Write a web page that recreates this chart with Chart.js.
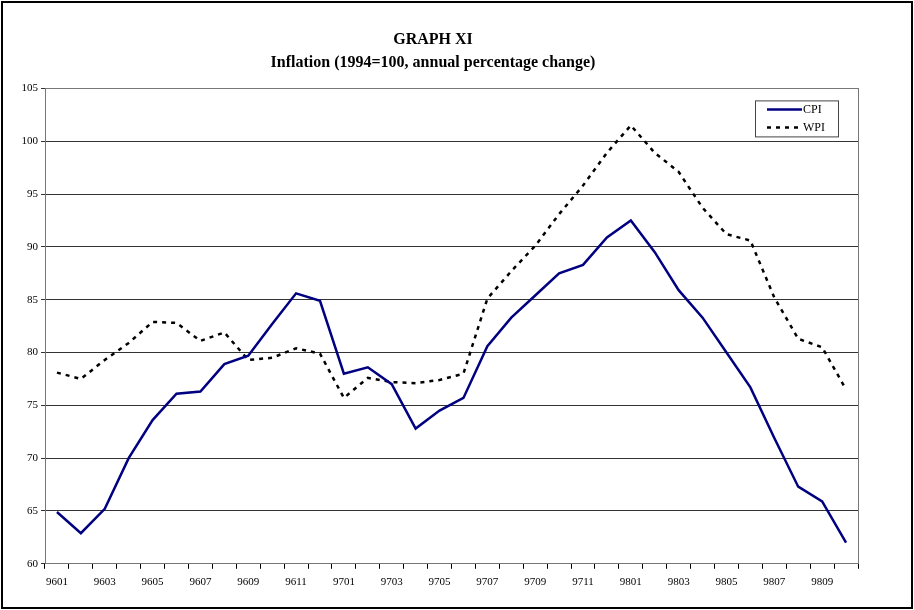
<!DOCTYPE html>
<html>
<head>
<meta charset="utf-8">
<script src="https://cdn.jsdelivr.net/npm/chart.js@4.4.0/dist/chart.umd.min.js"></script>
<style>
  html, body { margin: 0; padding: 0; background: #fff; }
  #wrap { width: 914px; height: 610px; position: relative; }
</style>
</head>
<body>
<div id="wrap"><canvas id="inflation-chart"></canvas></div>
<script>
const months = [
  "9601", "9602", "9603", "9604", "9605", "9606", "9607", "9608", "9609", "9610", "9611", "9612",
  "9701", "9702", "9703", "9704", "9705", "9706", "9707", "9708", "9709", "9710", "9711", "9712",
  "9801", "9802", "9803", "9804", "9805", "9806", "9807", "9808", "9809", "9810",
];
const cpi = [
  64.9, 62.9, 65.2, 70.0, 73.6, 76.1, 76.3, 78.9, 79.7, 82.7, 85.6, 84.9,
  78.0, 78.6, 77.0, 72.8, 74.5, 75.7, 80.6, 83.3, 85.4, 87.5, 88.3, 90.9,
  92.5, 89.5, 85.9, 83.3, 80.0, 76.7, 71.9, 67.3, 65.9, 62.0,
];
const wpi = [
  78.1, 77.5, 79.3, 80.9, 82.9, 82.8, 81.1, 81.9, 79.3, 79.5, 80.4, 79.9,
  75.7, 77.6, 77.2, 77.1, 77.4, 78.0, 85.1, 87.7, 90.1, 93.1, 95.8, 98.9,
  101.5, 98.9, 97.1, 93.7, 91.2, 90.6, 85.2, 81.3, 80.5, 76.5,
];
const yTicks = { min: 60, max: 105, step: 5 };
const titleLines = ["GRAPH XI", "Inflation (1994=100, annual percentage change)"];

const serif = "'Liberation Serif', 'DejaVu Serif', serif";

// frame around the whole picture + border of the plot area
const framePlugin = {
  id: "frame",
  afterDraw(chart) {
    const c = chart.ctx;
    const a = chart.chartArea;
    c.save();
    c.strokeStyle = "#000";
    c.lineWidth = 2;
    c.strokeRect(2, 2, chart.width - 4, chart.height - 4);
    c.strokeStyle = "#777";
    c.lineWidth = 1;
    c.strokeRect(Math.round(a.left) + 0.5, Math.round(a.top) + 0.5,
      Math.round(a.right - a.left), Math.round(a.bottom - a.top));
    c.restore();
  },
};

// small legend box in the upper right corner of the plot
const boxLegend = {
  id: "boxLegend",
  afterDraw(chart) {
    const c = chart.ctx;
    const a = chart.chartArea;
    const x = a.right - 103, y = a.top + 12, w = 83, h = 36;
    c.save();
    c.fillStyle = "#fff";
    c.fillRect(x, y, w, h);
    c.strokeStyle = "#444";
    c.lineWidth = 1;
    c.strokeRect(x + 0.5, y + 0.5, w, h);
    chart.data.datasets.forEach((ds, i) => {
      const ly = y + 9 + i * 18;
      c.strokeStyle = ds.borderColor;
      c.lineWidth = ds.borderWidth;
      c.setLineDash(ds.borderDash || []);
      c.beginPath();
      c.moveTo(x + 12, ly);
      c.lineTo(x + 47, ly);
      c.stroke();
      c.setLineDash([]);
      c.fillStyle = "#000";
      c.font = "12px " + serif;
      c.textBaseline = "middle";
      c.fillText(ds.label, x + 48, ly);
    });
    c.restore();
  },
};

const data = {
  labels: months,
  datasets: [
    {
      label: "CPI",
      data: cpi,
      borderColor: "#000080",
      borderWidth: 2.5,
      pointRadius: 0,
      tension: 0,
      fill: false,
    },
    {
      label: "WPI",
      data: wpi,
      borderColor: "#000",
      borderWidth: 2.5,
      borderDash: [4, 5],
      pointRadius: 0,
      tension: 0,
      fill: false,
    },
  ],
};

const config = {
  type: "line",
  data: data,
  plugins: [framePlugin, boxLegend],
  options: {
    responsive: true,
    maintainAspectRatio: false,
    animation: false,
    layout: { padding: { left: 8, right: 56, top: 20, bottom: 14 } },
    plugins: {
      legend: { display: false },
      tooltip: { enabled: false },
      title: {
        display: true,
        text: titleLines,
        color: "#000",
        font: { family: serif, size: 16, weight: "bold", lineHeight: 1.45 },
        padding: { top: 8, bottom: 14 },
      },
    },
    scales: {
      x: {
        offset: true,
        grid: { display: true, drawOnChartArea: false, offset: true, tickLength: 5, color: "#000" },
        border: { color: "#000", width: 1 },
        ticks: {
          autoSkip: false,
          maxRotation: 0,
          color: "#000",
          font: { family: serif, size: 11 },
          padding: 7,
          callback: function (val, idx) {
            return idx % 2 === 0 ? this.getLabelForValue(val) : "";
          },
        },
      },
      y: {
        min: yTicks.min,
        max: yTicks.max,
        afterFit(scale) { scale.width = 37; },
        grid: { color: "#333", tickLength: 4, lineWidth: 1 },
        border: { color: "#000", width: 1 },
        ticks: {
          stepSize: yTicks.step,
          color: "#000",
          font: { family: serif, size: 11 },
          padding: 3,
        },
      },
    },
  },
};

new Chart(document.getElementById("inflation-chart").getContext("2d"), config);
</script>
</body>
</html>
